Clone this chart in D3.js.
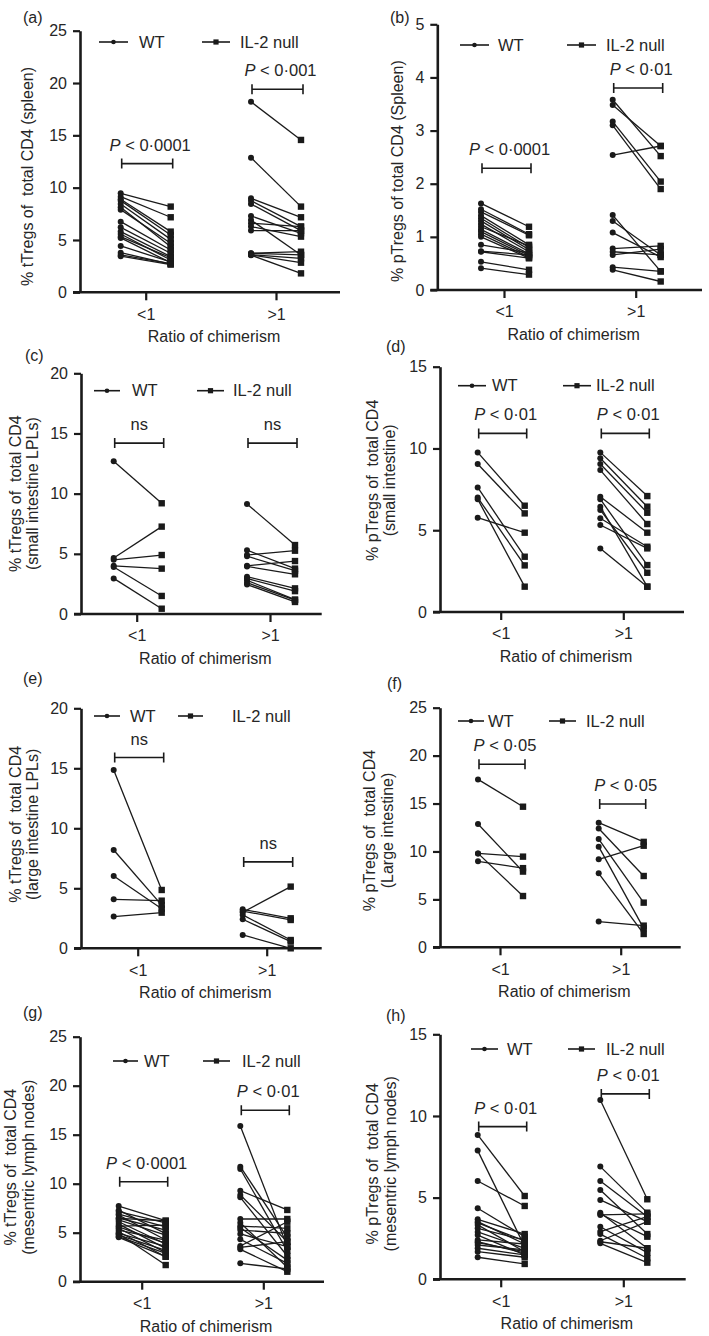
<!DOCTYPE html>
<html><head><meta charset="utf-8">
<script src="https://cdn.jsdelivr.net/npm/d3@7/dist/d3.min.js"></script>
<style>body{margin:0;background:#fff}svg{display:block}text{font-family:"Liberation Sans",Arial,sans-serif;fill:#262626}</style>
</head><body>
<svg id="c" width="709" height="1336"></svg>
<script>
// ---------- DATA ----------
const categories = ["<1", ">1"];
const seriesNames = ["WT", "IL-2 null"];
const panelTags = ["(a)","(b)","(c)","(d)","(e)","(f)","(g)","(h)"];
const xTitle = "Ratio of chimerism";
const yTitles = [
  ["% tTregs of  total CD4 (spleen)"],
  ["% pTregs of total CD4 (Spleen)"],
  ["% tTregs of  total CD4", "(small intestine LPLs)"],
  ["% pTregs of  total CD4", "(small intestine)"],
  ["% tTregs of  total CD4", "(large intestine LPLs)"],
  ["% pTregs of  total CD4", "(Large intestine)"],
  ["% tTregs of  total CD4", "(mesentric lymph nodes)"],
  ["% pTregs of  total CD4", "(mesentric lymph nodes)"]
];
const yMax = [25, 5, 20, 15, 20, 25, 25, 15];
const yStep = [5, 1, 5, 5, 5, 5, 5, 5];
const pLabels = [
  ["P < 0·0001", "P < 0·001"], ["P < 0·0001", "P < 0·01"], ["ns", "ns"], ["P < 0·01", "P < 0·01"],
  ["ns", "ns"], ["P < 0·05", "P < 0·05"], ["P < 0·0001", "P < 0·01"], ["P < 0·01", "P < 0·01"]
];
const bracketLevels = [[12.3, 19.4], [2.29, 3.8], [14.2, 14.2], [10.92, 10.92], [15.9, 7.2], [19.1, 14.95], [10.2, 17.5], [9.35, 11.35]];

// paired values: WT -> IL-2 null
const a_lt_WT = [9.46, 9.14, 8.9, 8.76, 8.44, 8.12, 7.9, 6.75, 6.21, 5.8, 5.57, 5.32, 5.2, 4.43, 3.79, 3.57, 3.45];
const a_lt_IL = [8.19, 7.17, 5.8, 5.48, 5.06, 4.36, 4.68, 4.04, 3.73, 3.41, 3.09, 3.3, 2.83, 2.9, 2.7, 2.75, 2.65];
const a_gt_WT = [18.2, 12.87, 8.98, 8.76, 8.44, 7.3, 6.91, 6.6, 6.28, 5.9, 3.73, 3.73, 3.6, 3.57, 3.55];
const a_gt_IL = [14.56, 8.19, 7.17, 6.28, 5.89, 5.64, 3.57, 6.28, 5.32, 5.9, 3.57, 3.88, 3.25, 2.83, 1.81];
const b_lt_WT = [1.63, 1.52, 1.47, 1.40, 1.35, 1.30, 1.24, 1.19, 1.14, 1.10, 1.05, 1.00, 0.85, 0.73, 0.72, 0.53, 0.41];
const b_lt_IL = [1.19, 1.05, 1.03, 0.85, 0.80, 0.76, 0.72, 0.83, 0.68, 0.65, 0.62, 0.60, 0.70, 0.66, 0.60, 0.38, 0.29];
const b_gt_WT = [3.58, 3.48, 3.17, 3.10, 2.54, 1.41, 1.30, 1.08, 0.78, 0.72, 0.66, 0.43, 0.38];
const b_gt_IL = [2.52, 2.71, 2.04, 1.90, 2.71, 0.35, 0.66, 0.62, 0.83, 0.66, 0.77, 0.35, 0.16];
const c_lt_WT = [12.7, 4.65, 4.5, 4.0, 3.9, 2.96];
const c_lt_IL = [9.2, 7.26, 4.9, 3.77, 1.5, 0.44];
const c_gt_WT = [9.14, 5.3, 4.9, 4.8, 4.0, 3.95, 3.1, 2.95, 2.8, 2.6, 2.45];
const c_gt_IL = [5.73, 3.77, 5.26, 3.6, 4.4, 3.3, 2.13, 1.9, 1.2, 1.16, 1.0];
const d_lt_WT = [9.76, 9.05, 7.62, 7.0, 6.9, 5.77];
const d_lt_IL = [6.5, 6.03, 3.38, 2.85, 1.55, 4.85];
const d_gt_WT = [9.76, 9.4, 9.05, 8.68, 7.05, 6.9, 6.44, 6.24, 5.73, 5.32, 3.89];
const d_gt_IL = [7.09, 6.44, 6.07, 5.38, 4.85, 2.87, 1.55, 2.4, 3.99, 3.89, 1.55];
const e_lt_WT = [14.86, 8.19, 6.03, 4.08, 2.64];
const e_lt_IL = [4.86, 3.6, 3.3, 3.97, 2.97];
const e_gt_WT = [3.25, 3.1, 3.0, 2.78, 2.42, 1.11];
const e_gt_IL = [2.5, 2.36, 5.14, 0.69, 0.56, 0.0];
const f_lt_WT = [17.52, 12.86, 9.8, 9.8, 8.97];
const f_lt_IL = [14.67, 7.9, 9.46, 5.35, 8.26];
const f_gt_WT = [13.0, 12.4, 11.3, 10.5, 9.18, 7.72, 2.68];
const f_gt_IL = [11.0, 7.44, 4.66, 1.98, 10.6, 1.39, 2.26];
const g_lt_WT = [7.72, 7.3, 7.14, 6.9, 6.8, 6.5, 6.46, 6.3, 6.12, 5.88, 5.68, 5.6, 5.45, 5.27, 5.1, 4.93, 4.9, 4.76, 4.6, 4.53];
const g_lt_IL = [6.22, 4.9, 6.0, 5.6, 4.25, 5.27, 6.22, 4.76, 3.85, 3.4, 5.78, 3.9, 2.96, 4.25, 2.55, 3.6, 1.7, 3.2, 2.9, 2.55];
const g_gt_WT = [15.89, 11.74, 11.5, 9.29, 8.85, 8.61, 6.4, 6.02, 5.68, 5.5, 5.27, 4.87, 4.32, 3.64, 3.5, 3.3, 1.87];
const g_gt_IL = [3.57, 4.53, 3.16, 7.32, 4.08, 2.62, 6.4, 1.47, 5.45, 2.2, 4.93, 3.57, 1.87, 6.12, 4.08, 1.02, 1.3];
const h_lt_WT = [8.84, 7.88, 6.02, 4.35, 3.67, 3.53, 3.45, 3.33, 3.12, 2.9, 2.71, 2.41, 2.3, 2.24, 2.1, 1.9, 1.69, 1.35];
const h_lt_IL = [5.1, 2.0, 4.49, 2.61, 2.77, 2.16, 2.36, 1.69, 2.4, 1.9, 1.49, 2.16, 1.6, 1.69, 1.8, 1.49, 1.35, 0.94];
const h_gt_WT = [10.98, 6.9, 6.02, 5.47, 4.86, 4.08, 4.0, 3.94, 3.22, 2.92, 2.77, 2.36, 2.3, 2.2];
const h_gt_IL = [4.9, 4.08, 3.83, 2.77, 3.53, 1.9, 2.61, 4.0, 1.63, 3.83, 1.29, 3.53, 1.9, 1.02];

const panelData = [
  [[a_lt_WT, a_lt_IL], [a_gt_WT, a_gt_IL]],
  [[b_lt_WT, b_lt_IL], [b_gt_WT, b_gt_IL]],
  [[c_lt_WT, c_lt_IL], [c_gt_WT, c_gt_IL]],
  [[d_lt_WT, d_lt_IL], [d_gt_WT, d_gt_IL]],
  [[e_lt_WT, e_lt_IL], [e_gt_WT, e_gt_IL]],
  [[f_lt_WT, f_lt_IL], [f_gt_WT, f_gt_IL]],
  [[g_lt_WT, g_lt_IL], [g_gt_WT, g_gt_IL]],
  [[h_lt_WT, h_lt_IL], [h_gt_WT, h_gt_IL]]
];

// ---------- LAYOUT ----------
const layout = [
  {axX:80,   y0:292.3,  yTop:30.7,   xEnd:340,   c:[145.7,276],   off:[-25,25], legY:42,    leg:[99,128,139,202,230,240],   ylx:[27],      ydy:15, tag:[23,22.5]},
  {axX:437.3,y0:290,    yTop:24.3,   xEnd:702,   c:[504,635.7],   off:[-23,25], legY:45,    leg:[460,489,498,567,596,606],  ylx:[397],     ydy:14, tag:[390,22.5]},
  {axX:81,   y0:614,    yTop:373.3,  xEnd:321.7, c:[136.7,270],   off:[-23,25], legY:390.7, leg:[94,120,132,197,224,233],   ylx:[15,32],   ydy:0,  tag:[25,360.5]},
  {axX:440,  y0:612,    yTop:366.7,  xEnd:684,   c:[500.7,623.3], off:[-23,24], legY:385.7, leg:[458,486,492,563,591,596],  ylx:[372,389], ydy:-9, tag:[386,352]},
  {axX:81,   y0:948.3,  yTop:708.3,  xEnd:321.7, c:[137.7,266.7], off:[-24,24], legY:716,   leg:[94,120,130,178,203,232],   ylx:[15,32],   ydy:-4, tag:[23,684]},
  {axX:440,  y0:947.3,  yTop:707.7,  xEnd:680.7, c:[500,620.7],   off:[-22,23], legY:721,   leg:[458,484,488,549,576,586],  ylx:[369,387], ydy:3,  tag:[387,689]},
  {axX:80,   y0:1281.7, yTop:1036.7, xEnd:324,   c:[141.7,263.3], off:[-23,24], legY:1061,  leg:[113,138,144,203,230,242],  ylx:[10,28],   ydy:8,  tag:[23,1018]},
  {axX:440,  y0:1279.3, yTop:1034.3, xEnd:685.7, c:[500.7,623.3], off:[-23,24], legY:1049,  leg:[471,498,507,568,595,606],  ylx:[372,390], ydy:7,  tag:[386,1020.5]}
];

const svg = d3.select("#c");
svg.append("rect").attr("width",709).attr("height",1336).attr("fill","#fff");
const INK = "#1a1a1a";

function pText(sel, s) {
  if (s.startsWith("P")) {
    sel.append("tspan").attr("font-style","italic").text("P");
    sel.append("tspan").text(s.slice(1));
  } else sel.text(s);
}

layout.forEach((L, i) => {
  const g = svg.append("g");
  const y = d3.scaleLinear().domain([0, yMax[i]]).range([L.y0, L.yTop]);
  const x = d3.scalePoint().domain(categories).range(L.c);
  const px = (ci, si) => x(categories[ci]) + L.off[si];

  // y axis
  const ya = g.append("g").attr("transform", `translate(${L.axX},0)`)
    .call(d3.axisLeft(y).tickValues(d3.range(0, yMax[i] + 1e-9, yStep[i])).tickSize(7).tickSizeOuter(0).tickPadding(6).tickFormat(d3.format("d")));
  ya.select(".domain").attr("stroke", INK).attr("stroke-width", 2.6);
  ya.selectAll(".tick line").attr("stroke", INK).attr("stroke-width", 2.2);
  ya.selectAll(".tick text").attr("font-size", 16).attr("fill", "#262626").style("font-family", '"Liberation Sans",Arial,sans-serif');

  // x axis
  g.append("line").attr("x1", L.axX - 7).attr("x2", L.xEnd).attr("y1", L.y0).attr("y2", L.y0)
    .attr("stroke", INK).attr("stroke-width", 2.6);
  const xa = g.append("g").attr("transform", `translate(0,${L.y0})`)
    .call(d3.axisBottom(x).tickSize(8).tickPadding(8));
  xa.select(".domain").remove();
  xa.selectAll(".tick line").attr("stroke", INK).attr("stroke-width", 2.2);
  xa.selectAll(".tick text").attr("font-size", 16).attr("fill", "#262626").style("font-family", '"Liberation Sans",Arial,sans-serif');

  // x title
  g.append("text").attr("x", (L.axX + L.xEnd) / 2 + 4).attr("y", L.y0 + 50)
    .attr("text-anchor", "middle").attr("font-size", 16).text(xTitle);

  // y title
  const ymid = (L.y0 + L.yTop) / 2 + L.ydy;
  yTitles[i].forEach((t, k) => {
    g.append("text").attr("transform", `translate(${L.ylx[k]},${ymid}) rotate(-90)`)
      .attr("text-anchor", "middle").attr("dy", "0.35em").attr("font-size", 16)
      .style("white-space", "pre").text(t);
  });

  // panel tag
  g.append("text").attr("x", L.tag[0]).attr("y", L.tag[1]).attr("font-size", 16).text(panelTags[i]);

  // legend
  const lg = L.leg;
  [[lg[0], lg[1], lg[2]], [lg[3], lg[4], lg[5]]].forEach((p, si) => {
    g.append("line").attr("x1", p[0]).attr("x2", p[1]).attr("y1", L.legY).attr("y2", L.legY)
      .attr("stroke", INK).attr("stroke-width", 1.6);
    const mx = (p[0] + p[1]) / 2;
    if (si === 0) g.append("circle").attr("cx", mx).attr("cy", L.legY).attr("r", 2.3).attr("fill", INK);
    else g.append("rect").attr("x", mx - 2.6).attr("y", L.legY - 2.6).attr("width", 5.2).attr("height", 5.2).attr("fill", INK);
    g.append("text").attr("x", p[2]).attr("y", L.legY).attr("dy", "0.35em").attr("font-size", 16.5).text(seriesNames[si]);
  });

  // data
  panelData[i].forEach((pair, ci) => {
    const [wt, il] = pair;
    const x0 = px(ci, 0), x1 = px(ci, 1);
    g.append("g").selectAll("line").data(wt).join("line")
      .attr("x1", x0).attr("x2", x1)
      .attr("y1", d => y(d)).attr("y2", (d, k) => y(il[k]))
      .attr("stroke", INK).attr("stroke-width", 1.3);
    g.append("g").selectAll("circle").data(wt).join("circle")
      .attr("cx", x0).attr("cy", d => y(d)).attr("r", 3).attr("fill", INK);
    g.append("g").selectAll("rect").data(il).join("rect")
      .attr("x", x1 - 3.2).attr("y", d => y(d) - 3.2).attr("width", 6.4).attr("height", 6.4).attr("fill", INK);

    // bracket
    const by = y(bracketLevels[i][ci]);
    const bx0 = x0 + 1, bx1 = x1 + 2;
    g.append("path").attr("d", `M${bx0},${by - 5}V${by + 5}M${bx0},${by}H${bx1}M${bx1},${by - 5}V${by + 5}`)
      .attr("fill", "none").attr("stroke", INK).attr("stroke-width", 1.6);
    const t = g.append("text").attr("x", (bx0 + bx1) / 2 + (pLabels[i][ci] === "ns" ? 0 : 3)).attr("y", by - 13)
      .attr("text-anchor", "middle").attr("font-size", 16.5);
    pText(t, pLabels[i][ci]);
  });
});
</script>
</body></html>
